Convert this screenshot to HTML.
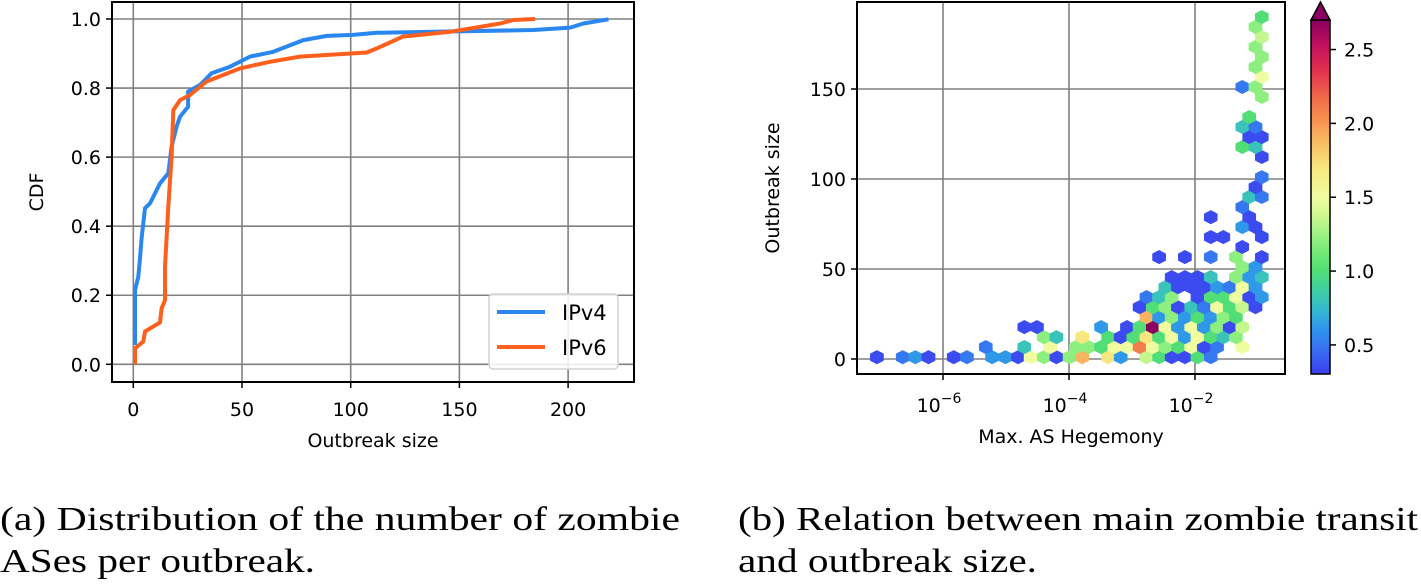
<!DOCTYPE html>
<html><head><meta charset="utf-8"><style>
body{margin:0;background:#fff;width:1421px;height:583px;overflow:hidden}
svg text{font-family:"DejaVu Sans","Liberation Sans",sans-serif;fill:#000}
svg text.cap{font-family:"Liberation Serif",serif;font-size:34px;fill:#000}
</style></head><body>
<svg id="fig" width="1421" height="583" viewBox="0 0 1421 583" xmlns="http://www.w3.org/2000/svg">
<defs>
<linearGradient id="cmap" gradientUnits="userSpaceOnUse" x1="0" y1="374" x2="0" y2="20">
<stop offset="0" stop-color="#3d3cf0"/><stop offset="0.06" stop-color="#3a6af0"/><stop offset="0.12" stop-color="#2f90f0"/>
<stop offset="0.18" stop-color="#33b8d0"/><stop offset="0.24" stop-color="#40d0a0"/><stop offset="0.30" stop-color="#55e070"/>
<stop offset="0.38" stop-color="#90f080"/><stop offset="0.45" stop-color="#d0f890"/><stop offset="0.5" stop-color="#f0fca0"/>
<stop offset="0.58" stop-color="#f8e880"/><stop offset="0.66" stop-color="#f8b860"/><stop offset="0.72" stop-color="#f89050"/>
<stop offset="0.78" stop-color="#f06a48"/><stop offset="0.86" stop-color="#e03050"/><stop offset="0.93" stop-color="#c01060"/>
<stop offset="1" stop-color="#8a0060"/></linearGradient>
</defs>
<g id="left"></g>
<g id="right"></g>
<text class="cap" x="0" y="530" textLength="680" lengthAdjust="spacingAndGlyphs">(a) Distribution of the number of zombie</text>
<text class="cap" x="0" y="572" textLength="315" lengthAdjust="spacingAndGlyphs">ASes per outbreak.</text>
<text class="cap" x="738" y="530" textLength="680" lengthAdjust="spacingAndGlyphs">(b) Relation between main zombie transit</text>
<text class="cap" x="738" y="572" textLength="299" lengthAdjust="spacingAndGlyphs">and outbreak size.</text>
</svg>
<script>
// ---- CDF data ----
const xTicksL = [0, 50, 100, 150, 200];
const yTicksL = [0.0, 0.2, 0.4, 0.6, 0.8, 1.0];
const v4X = [0.8,0.8,2.3,3.1,3.8,5.4,7.7,12.3,16.1,17.6,19.9,21.5,25.2,25.2,30.7,36,44.5,53.7,64.4,78.2,89,101,112,138,184,201,207,218.6];
const v4Y = [0.056,0.215,0.254,0.307,0.365,0.452,0.466,0.524,0.553,0.630,0.688,0.717,0.746,0.79,0.809,0.843,0.862,0.891,0.905,0.939,0.951,0.954,0.960,0.963,0.968,0.975,0.987,0.999];
const v6X = [0.8,0.8,4.6,5.4,7.7,12.3,13,14.6,14.6,16.1,17.6,18.4,21.5,26.1,33.7,49.1,62.9,76.7,107.4,112,124,145.7,168.7,174.8,184.8];
const v6Y = [0,0.046,0.066,0.095,0.104,0.121,0.162,0.186,0.283,0.457,0.601,0.736,0.765,0.780,0.819,0.857,0.876,0.891,0.903,0.915,0.949,0.963,0.987,0.997,1.0];
// ---- Hexbin data (log10 hegemony, outbreak size, color value) ----
const hexX = [-7.05,-6.64,-6.44,-6.23,-5.83,-5.62,-5.22,-5.01,-4.81,-4.61,-4.40,-4.20,-3.99,-3.79,-3.38,-3.18,-2.77,-2.57,-2.37,-2.16,-1.96,-1.75,
 -5.32,-4.71,-4.30,-3.89,-3.69,-3.49,-3.28,-3.08,-2.88,-2.67,-2.47,-2.27,-2.06,-1.86,-1.65,-1.25,
 -4.40,-4.20,-3.79,-3.38,-3.18,-2.98,-2.77,-2.57,-2.37,-2.16,-1.96,-1.75,-1.55,-1.35,
 -4.71,-4.51,-3.49,-3.08,-2.88,-2.67,-2.47,-2.27,-2.06,-1.86,-1.65,-1.45,-1.25,
 -2.77,-2.57,-2.37,-2.16,-1.96,-1.75,-1.55,-1.35,
 -2.88,-2.67,-2.47,-2.27,-2.06,-1.86,-1.65,-1.45,-1.25,-1.04,
 -2.77,-2.57,-2.37,-1.96,-1.75,-1.55,-1.35,-1.14,-0.94,
 -2.47,-2.27,-2.06,-1.86,-1.65,-1.45,-1.25,-1.04,
 -2.37,-2.16,-1.96,-1.75,-1.35,-1.14,-0.94,
 -1.25,-1.04,
 -2.57,-2.16,-1.75,-1.35,-0.94,
 -1.25,
 -1.75,-1.55,-0.94,
 -1.25,-1.04,
 -1.75,-1.14,
 -1.25,
 -1.14,-0.94,
 -1.04,
 -0.94,
 -0.94,
 -1.25,-1.04,
 -1.14,-0.94,
 -1.25,-1.04,
 -1.14,
 -0.94,
 -1.25,-1.04,
 -0.94,-1.04,-0.94,-1.04,-0.94,-1.04,-0.94];
const hexY = [1,1,1,1,1,1,1,1,1,1,1,1,1,1,1,1,1,1,1,1,1,1,
 6.6,6.6,6.6,6.6,6.6,6.6,6.6,6.6,6.6,6.6,6.6,6.6,6.6,6.6,6.6,6.6,
 12.1,12.1,12.1,12.1,12.1,12.1,12.1,12.1,12.1,12.1,12.1,12.1,12.1,12.1,
 17.7,17.7,17.7,17.7,17.7,17.7,17.7,17.7,17.7,17.7,17.7,17.7,17.7,
 23.2,23.2,23.2,23.2,23.2,23.2,23.2,23.2,
 28.8,28.8,28.8,28.8,28.8,28.8,28.8,28.8,28.8,28.8,
 34.4,34.4,34.4,34.4,34.4,34.4,34.4,34.4,34.4,
 39.9,39.9,39.9,39.9,39.9,39.9,39.9,39.9,
 45.5,45.5,45.5,45.5,45.5,45.5,45.5,
 51,51,
 56.6,56.6,56.6,56.6,56.6,
 62.2,
 67.7,67.7,67.7,
 73.3,73.3,
 78.8,78.8,
 84.4,
 90,90,
 95.5,
 101,
 112.2,
 117.8,117.8,
 123.3,123.3,
 128.9,128.9,
 134.4,
 145.6,
 151.1,151.1,
 156.7,162.2,167.8,173.4,178.9,184.5,190];
const hexC = [0.35,0.5,0.62,0.35,0.35,0.5,0.62,0.62,0.35,1.5,1.2,0.35,1.2,1.9,1.7,0.62,1.35,1.0,0.35,0.35,1.0,0.5,
 0.5,0.8,1.5,1.2,1.2,1.0,1.5,1.5,2.1,1.5,1.2,1.0,1.5,0.35,0.5,1.5,
 1.2,0.8,1.7,1.0,0.35,1.0,1.7,1.0,1.5,0.62,1.5,1.0,0.8,1.2,
 0.35,0.35,0.62,0.35,1.0,2.7,1.5,0.62,1.5,0.62,1.2,0.35,1.35,
 1.9,0.62,1.2,0.62,1.0,0.62,1.2,1.0,
 0.35,1.0,1.2,0.35,0.8,0.5,1.5,1.0,1.35,0.35,
 0.5,0.8,1.2,0.35,1.0,1.0,1.5,0.35,0.62,
 0.8,0.35,0.35,0.35,0.62,0.5,1.5,0.62,
 0.35,0.35,0.35,0.8,1.2,0.62,0.8,
 1.2,0.62,
 0.35,0.35,0.5,1.2,0.35,
 0.35,
 0.35,0.35,0.35,
 0.62,0.35,
 0.35,0.35,
 0.5,
 0.8,0.5,
 0.35,
 0.5,
 0.35,
 1.0,0.8,
 0.35,0.35,
 0.8,0.5,
 1.0,
 1.2,
 0.5,1.2,
 1.5,1.2,1.2,1.2,1.35,1.2,1.0];
const yTicksR = [0, 50, 100, 150];
const xTicksR = [-6, -4, -2];
const cbTicks = [0.5, 1.0, 1.5, 2.0, 2.5];

const NS = 'http://www.w3.org/2000/svg';
function mk(parent, tag, attrs, text){const e=document.createElementNS(NS,tag);for(const k in attrs)e.setAttribute(k,attrs[k]);if(text!==undefined)e.textContent=text;parent.appendChild(e);return e;}

// ---- left chart ----
const L = document.getElementById('left');
const lx = v => 133.3 + v * 2.174;
const ly = v => 364.3 - v * 345.3;
xTicksL.forEach(t => {
  const g = mk(L,'line',{x1:lx(t),x2:lx(t),y1:2,y2:382,stroke:'#808080','stroke-width':1.6});
   
  mk(L,'line',{x1:lx(t),x2:lx(t),y1:382,y2:388,stroke:'#000','stroke-width':1.5});
  const tx = mk(L,'text',{x:lx(t),y:416,'text-anchor':'middle','font-size':19},String(t));
   
});
yTicksL.forEach(t => {
  const g = mk(L,'line',{x1:112,x2:634,y1:ly(t),y2:ly(t),stroke:'#808080','stroke-width':1.6});
   
  mk(L,'line',{x1:106,x2:112,y1:ly(t),y2:ly(t),stroke:'#000','stroke-width':1.5});
  const tx = mk(L,'text',{x:101,y:ly(t)+7,'text-anchor':'end','font-size':19},t.toFixed(1));
   
});
function poly(xs, ys, color, name){
  const p = xs.map((x,i)=>lx(x).toFixed(1)+','+ly(ys[i]).toFixed(1)).join(' ');
  const e = mk(L,'polyline',{points:p,fill:'none',stroke:color,'stroke-width':4,'stroke-linejoin':'round'});
   
}
poly(v4X, v4Y, '#2a87ef', 'ipv4-line');
poly(v6X, v6Y, '#fd5f1c', 'ipv6-line');
const fr = mk(L,'rect',{x:112,y:2,width:522,height:380,fill:'none',stroke:'#000','stroke-width':2});
 
const lg = mk(L,'g',{});
 
mk(lg,'rect',{x:489,y:294,width:129,height:75,rx:4,fill:'#fff','fill-opacity':0.85,stroke:'#d0d0d0','stroke-width':1.5});
mk(lg,'line',{x1:497,x2:545,y1:312,y2:312,stroke:'#2a87ef','stroke-width':4});
mk(lg,'line',{x1:497,x2:545,y1:347,y2:347,stroke:'#fd5f1c','stroke-width':4});
const le1 = mk(lg,'text',{x:562,y:320,'font-size':21},'IPv4');
 
const le2 = mk(lg,'text',{x:562,y:355,'font-size':21},'IPv6');
 
const xl = mk(L,'text',{x:373,y:447,'text-anchor':'middle','font-size':19},'Outbreak size');
 
const yl = mk(L,'text',{x:0,y:0,'text-anchor':'middle','font-size':19,transform:'translate(43,192) rotate(-90)'},'CDF');
 

// ---- right chart ----
const R = document.getElementById('right');
const rx = v => 943 + (v + 6) * 63;
const ry = v => 359 - v * 1.8;
const cmin = 0.303, cmax = 2.70;
xTicksR.forEach(t => {
  const g = mk(R,'line',{x1:rx(t),x2:rx(t),y1:2,y2:374,stroke:'#808080','stroke-width':1.6});
   
  mk(R,'line',{x1:rx(t),x2:rx(t),y1:374,y2:380,stroke:'#000','stroke-width':1.5});
  const tx = mk(R,'text',{x:rx(t)-4,y:412,'text-anchor':'middle','font-size':19},'10');
  mk(tx,'tspan',{dy:-9,'font-size':14},String('\u2212'+Math.abs(t)));
   
});
yTicksR.forEach(t => {
  const g = mk(R,'line',{x1:857,x2:1285,y1:ry(t),y2:ry(t),stroke:'#808080','stroke-width':1.6});
   
  mk(R,'line',{x1:851,x2:857,y1:ry(t),y2:ry(t),stroke:'#000','stroke-width':1.5});
  const tx = mk(R,'text',{x:846,y:ry(t)+7,'text-anchor':'end','font-size':19},String(t));
   
});
const stops = [[0,'#3d3cf0'],[0.06,'#3a6af0'],[0.12,'#2f90f0'],[0.18,'#33b8d0'],[0.24,'#40d0a0'],[0.30,'#55e070'],[0.38,'#90f080'],[0.45,'#d0f890'],[0.5,'#f0fca0'],[0.58,'#f8e880'],[0.66,'#f8b860'],[0.72,'#f89050'],[0.78,'#f06a48'],[0.86,'#e03050'],[0.93,'#c01060'],[1,'#8a0060']];
function hex2rgb(h){return [1,3,5].map(i=>parseInt(h.substr(i,2),16));}
function cmapColor(v){
  let t = Math.max(0, Math.min(1, (v - cmin) / (cmax - cmin)));
  for (let i=1;i<stops.length;i++){ if (t <= stops[i][0]) {
    const a=stops[i-1], b=stops[i], f=(t-a[0])/(b[0]-a[0]);
    const ca=hex2rgb(a[1]), cb2=hex2rgb(b[1]);
    return 'rgb('+ca.map((c,k)=>Math.round(c+(cb2[k]-c)*f)).join(',')+')'; } }
  return stops[stops.length-1][1];
}
const hw = 6.6, hh = 6.8;
hexX.forEach((x,i) => {
  const cx = rx(x), cy = ry(hexY[i]);
  const pts = [[0,-hh],[hw,-hh/2],[hw,hh/2],[0,hh],[-hw,hh/2],[-hw,-hh/2]].map(p=>(cx+p[0]).toFixed(1)+','+(cy+p[1]).toFixed(1)).join(' ');
  const h = mk(R,'polygon',{points:pts,fill:cmapColor(hexC[i]),stroke:cmapColor(hexC[i]),'stroke-width':0.5});
   
});
const fr2 = mk(R,'rect',{x:857,y:2,width:428,height:372,fill:'none',stroke:'#000','stroke-width':2});
 
const xl2 = mk(R,'text',{x:1071,y:443,'text-anchor':'middle','font-size':19},'Max. AS Hegemony');
 
const yl2 = mk(R,'text',{x:0,y:0,'text-anchor':'middle','font-size':19,transform:'translate(779,188) rotate(-90)'},'Outbreak size');
 
// colorbar
const cy0 = 374, cy1 = 20;
const cby = v => cy0 - (v - cmin) / (cmax - cmin) * (cy0 - cy1);
const bar = mk(R,'rect',{x:1311,y:20,width:19,height:354,fill:'url(#cmap)',stroke:'#000','stroke-width':1.5});
 
const arrow = mk(R,'path',{d:'M1311,20 L1320.5,2 L1330,20 Z',fill:'#8a0060',stroke:'#000','stroke-width':1.5});
 
cbTicks.forEach(t => {
  mk(R,'line',{x1:1330,x2:1336,y1:cby(t),y2:cby(t),stroke:'#000','stroke-width':1.5});
  const tx = mk(R,'text',{x:1344,y:cby(t)+7,'font-size':19},t.toFixed(1));
   
});
</script>
</body></html>
